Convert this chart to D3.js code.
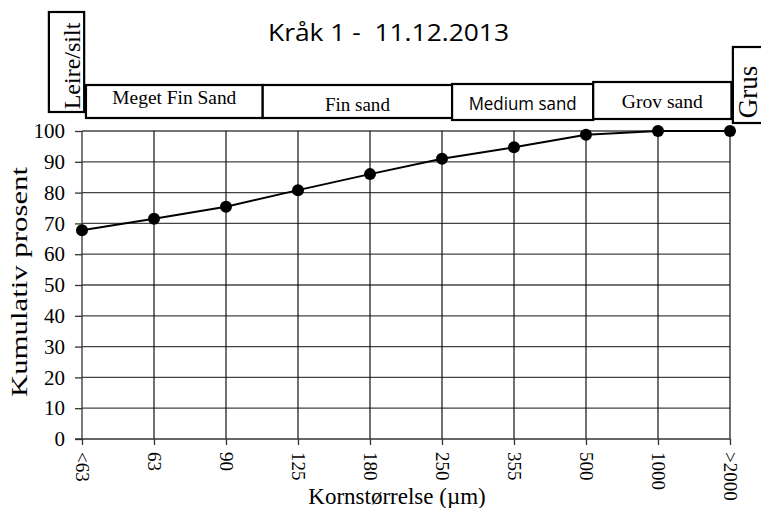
<!DOCTYPE html>
<html>
<head>
<meta charset="utf-8">
<script src="https://cdn.jsdelivr.net/npm/d3@7"></script>
<style>
  body { margin: 0; background: #fff; }
  text { font-family: 'Liberation Serif', 'DejaVu Serif', serif; fill: #000; }
</style>
</head>
<body>
<svg id="chart" width="761" height="508"></svg>
<script>
const categories = ['<63', '63', '90', '125', '180', '250', '355', '500', '1000', '>2000'];
const cumulative = [67.8, 71.5, 75.4, 80.8, 86.0, 91.0, 94.7, 98.8, 100, 100];
const yTicks = [0, 10, 20, 30, 40, 50, 60, 70, 80, 90, 100];
const bandNames = ['Leire/silt', 'Meget Fin Sand', 'Fin sand', 'Medium sand', 'Grov sand', 'Grus'];

const width = 761;
const height = 508;
const margin = { top: 131, right: 31, bottom: 69, left: 82 };

const svg = d3.select('#chart');

const x = d3
  .scalePoint()
  .domain(categories)
  .range([margin.left, width - margin.right]);

const y = d3
  .scaleLinear()
  .domain([0, 100])
  .range([height - margin.bottom, margin.top]);

// index -> pixel, for the size-class boxes above the plot
const xi = d3
  .scaleLinear()
  .domain([0, categories.length - 1])
  .range([margin.left, width - margin.right]);

// horizontal gridlines
svg
  .append('g')
  .selectAll('line')
  .data(yTicks.slice(1))
  .enter()
  .append('line')
  .attr('x1', margin.left)
  .attr('x2', width - margin.right)
  .attr('y1', d => y(d))
  .attr('y2', d => y(d))
  .attr('stroke', '#444')
  .attr('stroke-width', 1.3);

// vertical gridlines
svg
  .append('g')
  .selectAll('line')
  .data(categories.slice(1))
  .enter()
  .append('line')
  .attr('x1', d => x(d))
  .attr('x2', d => x(d))
  .attr('y1', y(0))
  .attr('y2', y(100))
  .attr('stroke', '#111')
  .attr('stroke-width', 1.2);

// y axis
const yAxis = svg
  .append('g')
  .attr('transform', `translate(${margin.left},0)`)
  .call(d3.axisLeft(y).tickValues(yTicks).tickSize(7).tickPadding(10));
yAxis.select('.domain').attr('stroke', '#333').attr('stroke-width', 1.3)
  .attr('d', `M0,${y(0)}V${y(100)}`);
yAxis.selectAll('.tick line').attr('stroke', '#333').attr('stroke-width', 1.3);
yAxis
  .selectAll('.tick text')
  .style('font-family', "'Liberation Serif', serif")
  .style('font-size', '21px')
  .attr('fill', '#000');

// x axis
const xAxis = svg
  .append('g')
  .attr('transform', `translate(0,${y(0)})`)
  .call(d3.axisBottom(x).tickSize(6).tickSizeOuter(0));
xAxis.select('.domain').attr('stroke', '#333').attr('stroke-width', 1.3)
  .attr('d', `M${margin.left - 7},0H${width - margin.right}`);
xAxis.selectAll('.tick line').attr('stroke', '#333').attr('stroke-width', 1.3);
xAxis
  .selectAll('.tick text')
  .style('font-family', "'Liberation Serif', serif")
  .style('font-size', '19px')
  .attr('fill', '#000')
  .attr('text-anchor', 'start')
  .attr('dy', '0.33em')
  .attr('transform', 'translate(0,13) rotate(90)')
  .attr('y', 0)
  .attr('x', 0);

// line + markers
const line = d3
  .line()
  .x((d, i) => x(categories[i]))
  .y(d => y(d));

svg
  .append('path')
  .datum(cumulative)
  .attr('d', line)
  .attr('fill', 'none')
  .attr('stroke', '#000')
  .attr('stroke-width', 2);

svg
  .append('g')
  .selectAll('circle')
  .data(cumulative)
  .enter()
  .append('circle')
  .attr('cx', (d, i) => x(categories[i]))
  .attr('cy', d => y(d))
  .attr('r', 6)
  .attr('fill', '#000');

// size-class boxes: [left idx, right idx, top, bottom]
const bandBox = [
  [-0.46, 0.03, 12, 112],
  [0.055, 2.51, 85, 118],
  [2.51, 5.14, 85, 118],
  [5.14, 7.1, 84, 120],
  [7.1, 9.02, 82, 119],
  [9.04, 9.6, 47, 123],
];
// label style: [rotated, font size, baseline, font, width]
const bandText = [
  [true, 24, 80, 'serif', 0],
  [false, 19.5, 104, 'serif', 124],
  [false, 19.5, 111, 'serif', 65],
  [false, 18, 110, 'sans', 108],
  [false, 19.5, 108, 'serif', 81],
  [true, 27, 757, 'serif', 0],
];

const bands = svg
  .append('g')
  .selectAll('g')
  .data(bandNames)
  .enter()
  .append('g');

bands
  .append('rect')
  .attr('x', (d, i) => xi(bandBox[i][0]))
  .attr('y', (d, i) => bandBox[i][2])
  .attr('width', (d, i) => xi(bandBox[i][1]) - xi(bandBox[i][0]))
  .attr('height', (d, i) => bandBox[i][3] - bandBox[i][2])
  .attr('fill', '#fff')
  .attr('stroke', '#000')
  .attr('stroke-width', 2.2);

bands
  .append('text')
  .text(d => d)
  .style('font-size', (d, i) => `${bandText[i][1]}px`)
  .style('font-family', (d, i) =>
    bandText[i][3] === 'sans' ? "'Open Sans', sans-serif" : "'Liberation Serif', serif")
  .attr('text-anchor', 'middle')
  .each(function(d, i) {
    if (bandText[i][4]) {
      d3.select(this)
        .attr('textLength', bandText[i][4])
        .attr('lengthAdjust', 'spacingAndGlyphs');
    }
  })
  .attr('transform', (d, i) => {
    const b = bandBox[i];
    const t = bandText[i];
    const cx = (xi(b[0]) + xi(b[1])) / 2;
    if (t[0]) {
      const cy = i === 0 ? 66 : 92;
      return `translate(${t[2]},${cy}) rotate(-90)`;
    }
    return `translate(${cx},${t[2]})`;
  });

// title
svg
  .append('text')
  .attr('x', 388.5)
  .attr('y', 41)
  .attr('text-anchor', 'middle')
  .attr('textLength', 241)
  .attr('lengthAdjust', 'spacingAndGlyphs')
  .style('white-space', 'pre')
  .style('font-family', "'Open Sans', 'Noto Sans', sans-serif")
  .style('font-size', '23px')
  .text('Kråk 1 -  11.12.2013');

// axis titles
svg
  .append('text')
  .attr('x', 397)
  .attr('y', 504)
  .attr('text-anchor', 'middle')
  .style('font-size', '23px')
  .text('Kornstørrelse (µm)');

svg
  .append('text')
  .attr('transform', 'translate(27,282) rotate(-90)')
  .attr('text-anchor', 'middle')
  .attr('textLength', 230)
  .attr('lengthAdjust', 'spacingAndGlyphs')
  .style('font-size', '24px')
  .text('Kumulativ prosent');
</script>
</body>
</html>
